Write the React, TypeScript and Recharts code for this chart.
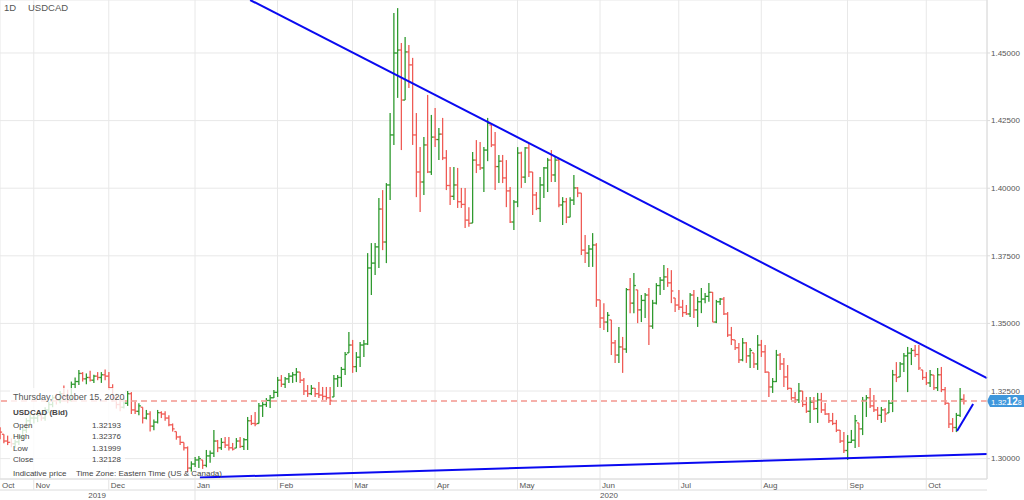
import React from 'react';
import { ComposedChart, Bar, XAxis, YAxis, CartesianGrid, ReferenceLine } from 'recharts';

// daily bars per month as [high, low, close]; open is the previous close
type Hlc = [number, number, number];

const firstOpen = 1.3110;

const oct2019: Hlc[] = [
  [1.3116, 1.3072, 1.3098], [1.3090, 1.3057, 1.3065], [1.3085, 1.3050, 1.3060], [1.3075, 1.3042, 1.3055],
  [1.3070, 1.3040, 1.3062], [1.3090, 1.3050, 1.3080], [1.3120, 1.3070, 1.3105], [1.3150, 1.3095, 1.3140],
  [1.3165, 1.3120, 1.3150],
];
const nov2019: Hlc[] = [
  [1.3165, 1.3130, 1.3150], [1.3175, 1.3135, 1.3160], [1.3170, 1.3140, 1.3150], [1.3190, 1.3140, 1.3180],
  [1.3210, 1.3170, 1.3200], [1.3235, 1.3190, 1.3225], [1.3240, 1.3200, 1.3215], [1.3250, 1.3205, 1.3240],
  [1.3270, 1.3215, 1.3230], [1.3255, 1.3205, 1.3215], [1.3285, 1.3210, 1.3275], [1.3300, 1.3260, 1.3285],
  [1.3328, 1.3272, 1.3315], [1.3320, 1.3285, 1.3295], [1.3315, 1.3275, 1.3300], [1.3325, 1.3285, 1.3290],
  [1.3310, 1.3280, 1.3305], [1.3320, 1.3290, 1.3300], [1.3320, 1.3280, 1.3310], [1.3330, 1.3290, 1.3305],
];
const dec2019: Hlc[] = [
  [1.3320, 1.3255, 1.3262], [1.3275, 1.3210, 1.3225], [1.3240, 1.3185, 1.3200], [1.3225, 1.3175, 1.3190],
  [1.3225, 1.3185, 1.3205], [1.3250, 1.3195, 1.3240], [1.3246, 1.3165, 1.3180], [1.3210, 1.3165, 1.3175],
  [1.3205, 1.3160, 1.3195], [1.3190, 1.3130, 1.3150], [1.3180, 1.3145, 1.3165], [1.3175, 1.3100, 1.3120],
  [1.3145, 1.3105, 1.3135], [1.3180, 1.3130, 1.3170], [1.3175, 1.3150, 1.3165], [1.3175, 1.3140, 1.3150],
  [1.3160, 1.3120, 1.3125], [1.3130, 1.3100, 1.3110], [1.3100, 1.3070, 1.3080], [1.3085, 1.3050, 1.3060],
  [1.3060, 1.3030, 1.3040], [1.3045, 1.2950, 1.2965], [1.2990, 1.2952, 1.2980],
];
const jan2020: Hlc[] = [
  [1.3006, 1.2969, 1.2995], [1.3010, 1.2965, 1.3000], [1.2995, 1.2962, 1.2975], [1.3032, 1.2968, 1.3010],
  [1.3030, 1.2985, 1.3020], [1.3106, 1.3006, 1.3065], [1.3069, 1.3024, 1.3040], [1.3076, 1.3032, 1.3060],
  [1.3080, 1.3039, 1.3050], [1.3080, 1.3030, 1.3040], [1.3058, 1.3030, 1.3035], [1.3076, 1.3039, 1.3065],
  [1.3080, 1.3039, 1.3045], [1.3076, 1.3032, 1.3070], [1.3154, 1.3032, 1.3140], [1.3161, 1.3124, 1.3130],
  [1.3172, 1.3120, 1.3128], [1.3206, 1.3130, 1.3195], [1.3209, 1.3154, 1.3200], [1.3224, 1.3191, 1.3215],
  [1.3235, 1.3187, 1.3225], [1.3254, 1.3224, 1.3245],
];
const feb2020: Hlc[] = [
  [1.3302, 1.3228, 1.3290], [1.3309, 1.3265, 1.3275], [1.3302, 1.3261, 1.3295], [1.3317, 1.3280, 1.3305],
  [1.3320, 1.3280, 1.3310], [1.3335, 1.3283, 1.3320], [1.3320, 1.3280, 1.3290], [1.3298, 1.3235, 1.3250],
  [1.3272, 1.3228, 1.3240], [1.3272, 1.3235, 1.3260], [1.3261, 1.3228, 1.3240], [1.3283, 1.3224, 1.3235],
  [1.3265, 1.3217, 1.3230], [1.3265, 1.3217, 1.3225], [1.3265, 1.3198, 1.3215], [1.3309, 1.3228, 1.3295],
  [1.3309, 1.3265, 1.3300], [1.3339, 1.3265, 1.3330], [1.3394, 1.3309, 1.3385], [1.3468, 1.3391, 1.3420],
];
const mar2020: Hlc[] = [
  [1.3439, 1.3317, 1.3340], [1.3394, 1.3320, 1.3375], [1.3431, 1.3339, 1.3420], [1.3439, 1.3376, 1.3424],
  [1.3760, 1.3420, 1.3705], [1.3797, 1.3605, 1.3723], [1.3797, 1.3679, 1.3783], [1.3964, 1.3705, 1.3923],
  [1.3993, 1.3771, 1.3801], [1.4019, 1.3723, 1.4012], [1.4278, 1.3956, 1.4197], [1.4648, 1.4160, 1.4500],
  [1.4666, 1.4334, 1.4511], [1.4537, 1.4141, 1.4326], [1.4559, 1.4326, 1.4504], [1.4530, 1.4371, 1.4456],
  [1.4482, 1.4160, 1.4197], [1.4278, 1.3967, 1.4060], [1.4152, 1.3912, 1.4023], [1.4189, 1.3975, 1.4160],
  [1.4345, 1.4056, 1.4060], [1.4271, 1.4049, 1.4189],
];
const apr2020: Hlc[] = [
  [1.4297, 1.4152, 1.4180], [1.4223, 1.4104, 1.4200], [1.4260, 1.4104, 1.4112], [1.4141, 1.3993, 1.4010],
  [1.4078, 1.3938, 1.3970], [1.4078, 1.3956, 1.4012], [1.4075, 1.3927, 1.3950], [1.4001, 1.3927, 1.3940],
  [1.4001, 1.3853, 1.3882], [1.3930, 1.3857, 1.3870], [1.4134, 1.3871, 1.4104], [1.4178, 1.4056, 1.4086],
  [1.4171, 1.4067, 1.4075], [1.4152, 1.3986, 1.4141], [1.4260, 1.4100, 1.4240], [1.4234, 1.4152, 1.4160],
  [1.4208, 1.3993, 1.4080], [1.4123, 1.4019, 1.4100], [1.4123, 1.4019, 1.4038], [1.4104, 1.3930, 1.3990],
  [1.4004, 1.3871, 1.3875], [1.3956, 1.3845, 1.3949],
];
const may2020: Hlc[] = [
  [1.4152, 1.3930, 1.4130], [1.4135, 1.4001, 1.4041], [1.4152, 1.4019, 1.4149], [1.4167, 1.4041, 1.4060],
  [1.4060, 1.3901, 1.3975], [1.3986, 1.3919, 1.3925], [1.4041, 1.3875, 1.4012], [1.4078, 1.3964, 1.4075],
  [1.4112, 1.3986, 1.4104], [1.4141, 1.4023, 1.4049], [1.4115, 1.4023, 1.4104], [1.4112, 1.3930, 1.3938],
  [1.3967, 1.3864, 1.3950], [1.3964, 1.3871, 1.3893], [1.3967, 1.3893, 1.3956], [1.4049, 1.3938, 1.4001],
  [1.4004, 1.3967, 1.3982], [1.3982, 1.3753, 1.3771], [1.3827, 1.3723, 1.3760], [1.3790, 1.3709, 1.3775],
  [1.3834, 1.3709, 1.3790], [1.3797, 1.3561, 1.3587],
];
const jun2020: Hlc[] = [
  [1.3587, 1.3483, 1.3520], [1.3575, 1.3476, 1.3505], [1.3542, 1.3468, 1.3530], [1.3513, 1.3383, 1.3428],
  [1.3439, 1.3354, 1.3383], [1.3487, 1.3354, 1.3413], [1.3450, 1.3317, 1.3405], [1.3631, 1.3391, 1.3625],
  [1.3668, 1.3538, 1.3575], [1.3686, 1.3538, 1.3640], [1.3624, 1.3501, 1.3550], [1.3605, 1.3505, 1.3585],
  [1.3612, 1.3520, 1.3605], [1.3631, 1.3420, 1.3490], [1.3587, 1.3480, 1.3575], [1.3649, 1.3570, 1.3640],
  [1.3672, 1.3605, 1.3660], [1.3716, 1.3624, 1.3672], [1.3705, 1.3635, 1.3650], [1.3697, 1.3575, 1.3620],
  [1.3594, 1.3542, 1.3568],
];
const jul2020: Hlc[] = [
  [1.3624, 1.3550, 1.3560], [1.3587, 1.3524, 1.3540], [1.3568, 1.3531, 1.3535], [1.3612, 1.3524, 1.3605],
  [1.3624, 1.3520, 1.3550], [1.3598, 1.3487, 1.3580], [1.3631, 1.3538, 1.3590], [1.3612, 1.3575, 1.3600],
  [1.3649, 1.3580, 1.3615], [1.3616, 1.3505, 1.3505], [1.3587, 1.3501, 1.3580], [1.3594, 1.3568, 1.3590],
  [1.3598, 1.3531, 1.3535], [1.3542, 1.3450, 1.3457], [1.3487, 1.3420, 1.3440], [1.3439, 1.3402, 1.3410],
  [1.3428, 1.3354, 1.3365], [1.3446, 1.3360, 1.3428], [1.3431, 1.3354, 1.3380], [1.3409, 1.3335, 1.3400],
  [1.3391, 1.3335, 1.3350], [1.3457, 1.3328, 1.3420],
];
const aug2020: Hlc[] = [
  [1.3439, 1.3376, 1.3395], [1.3420, 1.3317, 1.3320], [1.3320, 1.3228, 1.3265], [1.3298, 1.3243, 1.3285],
  [1.3402, 1.3283, 1.3383], [1.3391, 1.3328, 1.3350], [1.3372, 1.3265, 1.3302], [1.3346, 1.3254, 1.3260],
  [1.3261, 1.3217, 1.3225], [1.3246, 1.3206, 1.3217], [1.3280, 1.3206, 1.3250], [1.3250, 1.3191, 1.3200],
  [1.3228, 1.3169, 1.3175], [1.3228, 1.3132, 1.3209], [1.3228, 1.3180, 1.3185], [1.3243, 1.3132, 1.3217],
  [1.3243, 1.3169, 1.3180], [1.3206, 1.3161, 1.3165], [1.3169, 1.3132, 1.3140], [1.3169, 1.3124, 1.3130],
  [1.3143, 1.3098, 1.3105], [1.3106, 1.3058, 1.3065], [1.3098, 1.3021, 1.3030],
];
const sep2020: Hlc[] = [
  [1.3087, 1.2995, 1.3060], [1.3106, 1.3058, 1.3068], [1.3161, 1.3039, 1.3140], [1.3132, 1.3043, 1.3110],
  [1.3228, 1.3087, 1.3215], [1.3235, 1.3154, 1.3225], [1.3261, 1.3187, 1.3195], [1.3235, 1.3172, 1.3180],
  [1.3191, 1.3143, 1.3160], [1.3191, 1.3132, 1.3180], [1.3187, 1.3135, 1.3165], [1.3217, 1.3169, 1.3205],
  [1.3328, 1.3172, 1.3310], [1.3357, 1.3283, 1.3300], [1.3357, 1.3302, 1.3350], [1.3391, 1.3320, 1.3380],
  [1.3413, 1.3246, 1.3390], [1.3409, 1.3346, 1.3400], [1.3420, 1.3376, 1.3385], [1.3420, 1.3328, 1.3335],
  [1.3328, 1.3291, 1.3300],
];
const oct2020: Hlc[] = [
  [1.3320, 1.3272, 1.3280], [1.3328, 1.3265, 1.3310], [1.3309, 1.3254, 1.3262], [1.3335, 1.3250, 1.3310],
  [1.3339, 1.3246, 1.3255], [1.3265, 1.3198, 1.3205], [1.3206, 1.3113, 1.3128], [1.3150, 1.3098, 1.3115],
  [1.3169, 1.3098, 1.3160], [1.3261, 1.3154, 1.32193], [1.32376, 1.31999, 1.32128],
];

const months = [oct2019, nov2019, dec2019, jan2020, feb2020, mar2020, apr2020, may2020, jun2020, jul2020, aug2020, sep2020, oct2020];
const monthLabels = ['Oct', 'Nov', 'Dec', 'Jan', 'Feb', 'Mar', 'Apr', 'May', 'Jun', 'Jul', 'Aug', 'Sep', 'Oct'];
const yearLabels = ['2019', '2020'];
const yearCenters = [25.9, 162.4];
const yTicks = [1.3, 1.325, 1.35, 1.375, 1.4, 1.425, 1.45];

// hand drawn trend lines, in (bar index, price)
const upperTrend = [{ x: 66.7, y: 1.4696 }, { x: 263.2, y: 1.3298 }];
const lowerTrend = [{ x: 53.3, y: 1.2930 }, { x: 263.2, y: 1.3017 }];
const shortTrend = [{ x: 255.2, y: 1.3102 }, { x: 259.5, y: 1.3202 }];

const X_MAX = 263.2;
const Y_MIN = 1.29246;
const Y_MAX = 1.4696;
const UP = '#2f9a2f';
const DOWN = '#ef5b55';
const FONT = '"Liberation Sans", Arial, sans-serif';

const rows: any[] = [];
const monthTicks: number[] = [];
let prevClose = firstOpen;
months.forEach(m => {
  monthTicks.push(rows.length);
  m.forEach(([high, low, close]) => {
    rows.push({ i: rows.length, open: prevClose, high, low, close, range: [low, high] });
    prevClose = close;
  });
});
const last = rows[rows.length - 1];

const OhlcShape = (props: any) => {
  const { x, y, width, height, payload } = props;
  if (!payload) return null;
  const top = Math.min(y, y + height);
  const h = Math.abs(height);
  const { open, high, low, close } = payload;
  const span = high - low || 1;
  const toY = (v: number) => top + ((high - Math.min(high, Math.max(low, v))) / span) * h;
  const cx = x + width / 2;
  const color = close >= open ? UP : DOWN;
  return (
    <g stroke={color} strokeWidth={1.3}>
      <line x1={cx} x2={cx} y1={top} y2={top + h} />
      <line x1={cx - 2} x2={cx} y1={toY(open)} y2={toY(open)} />
      <line x1={cx} x2={cx + 2} y1={toY(close)} y2={toY(close)} />
    </g>
  );
};

const MonthTick = (props: any) => {
  const { x, y, payload } = props;
  const idx = monthTicks.indexOf(payload.value);
  const isYearStart = monthLabels[idx] === 'Jan';
  return (
    <g>
      {idx > 0 && <line x1={x} x2={x} y1={y} y2={y + (isYearStart ? 21 : 11)} stroke="#e3e3e3" />}
      <text x={x + 2} y={y + 9} fontSize={8} fill="#555" fontFamily={FONT}>{monthLabels[idx]}</text>
    </g>
  );
};

const YearTick = (props: any) => {
  const { x, y, payload } = props;
  const idx = yearCenters.indexOf(payload.value);
  return (
    <text x={x} y={y + 8} fontSize={8} fill="#555" textAnchor="middle" fontFamily={FONT}>{yearLabels[idx]}</text>
  );
};

const PriceTag = (props: any) => {
  const vb = props.viewBox;
  if (!vb) return null;
  const x = vb.x + vb.width;
  const y = vb.y;
  const s = last.close.toFixed(5);
  return (
    <g>
      <path d={`M${x},${y} L${x + 3},${y - 6} L${x + 38},${y - 6} L${x + 38},${y + 6} L${x + 3},${y + 6} Z`} fill="#3f97dc" />
      <text x={x + 4} y={y + 3.5} fill="#fff" fontSize={8} fontFamily={FONT}>
        {s.slice(0, 4)}
        <tspan fontWeight="bold" fontSize={10}>{s.slice(4, 6)}</tspan>
        <tspan fontSize={7}>{s.slice(6)}</tspan>
      </text>
    </g>
  );
};

const txt: React.CSSProperties = { position: 'absolute', fontFamily: FONT, fontSize: 8, color: '#444', lineHeight: '10px', whiteSpace: 'nowrap' };

export default function App() {
  return (
    <div style={{ position: 'fixed', left: 0, top: 0, width: 1024, height: 500, background: '#fff' }}>
      <ComposedChart width={1024} height={500} data={rows} margin={{ top: 0, right: 0, bottom: 0, left: 0 }}>
        <CartesianGrid stroke="#e8e8e8" />
        <XAxis
          dataKey="i" type="number" domain={[0, X_MAX]} allowDataOverflow ticks={monthTicks} interval={0}
          height={11} tickSize={0} tickMargin={0} axisLine={{ stroke: '#dcdcdc' }} tickLine={false} tick={<MonthTick />}
        />
        <XAxis
          xAxisId="year" dataKey="i" type="number" domain={[0, X_MAX]} allowDataOverflow ticks={yearCenters} interval={0}
          height={10} tickSize={0} tickMargin={0} axisLine={{ stroke: '#dcdcdc' }} tickLine={false} tick={<YearTick />}
        />
        <YAxis
          orientation="right" width={37} type="number" domain={[Y_MIN, Y_MAX]} allowDataOverflow ticks={yTicks}
          tickFormatter={(v: number) => v.toFixed(5)} tick={{ fontSize: 8, fill: '#555', fontFamily: FONT }}
          axisLine={{ stroke: '#dcdcdc' }} tickLine={{ stroke: '#dcdcdc' }} tickSize={3} tickMargin={1}
        />
        <ReferenceLine y={last.close} stroke="#f3968f" strokeWidth={1.5} strokeDasharray="6 4" label={<PriceTag />} ifOverflow="visible" />
        <Bar dataKey="range" barSize={2} shape={<OhlcShape />} isAnimationActive={false} />
        <ReferenceLine segment={upperTrend} stroke="#0a0af0" strokeWidth={2} ifOverflow="visible" />
        <ReferenceLine segment={lowerTrend} stroke="#0a0af0" strokeWidth={2} ifOverflow="visible" />
        <ReferenceLine segment={shortTrend} stroke="#0a0af0" strokeWidth={2} ifOverflow="visible" />
      </ComposedChart>

      <div style={{ ...txt, left: 4, top: 3, fontSize: 9.5, color: '#555' }}>1D</div>
      <div style={{ ...txt, left: 28, top: 3, fontSize: 9.5, color: '#555' }}>USDCAD</div>

      <div style={{ position: 'absolute', left: 10, top: 388, width: 115, height: 90, background: 'rgba(255,255,255,0.8)' }} />
      <div style={{ ...txt, left: 13, top: 392, fontSize: 9, color: '#555' }}>Thursday, October 15, 2020</div>
      <div style={{ ...txt, left: 13, top: 408, fontWeight: 'bold' }}>USDCAD (Bid)</div>
      {[['Open', last.open], ['High', last.high], ['Low', last.low], ['Close', last.close]].map(([k, v], n) => (
        <React.Fragment key={k as string}>
          <div style={{ ...txt, left: 13, top: 421 + n * 11.3 }}>{k}</div>
          <div style={{ ...txt, left: 60, width: 61, textAlign: 'right', top: 421 + n * 11.3 }}>{(v as number).toFixed(5)}</div>
        </React.Fragment>
      ))}
      <div style={{ ...txt, left: 13, top: 468.5 }}>Indicative price</div>
      <div style={{ ...txt, left: 76, top: 468.5 }}>Time Zone: Eastern Time (US &amp; Canada)</div>
    </div>
  );
}
